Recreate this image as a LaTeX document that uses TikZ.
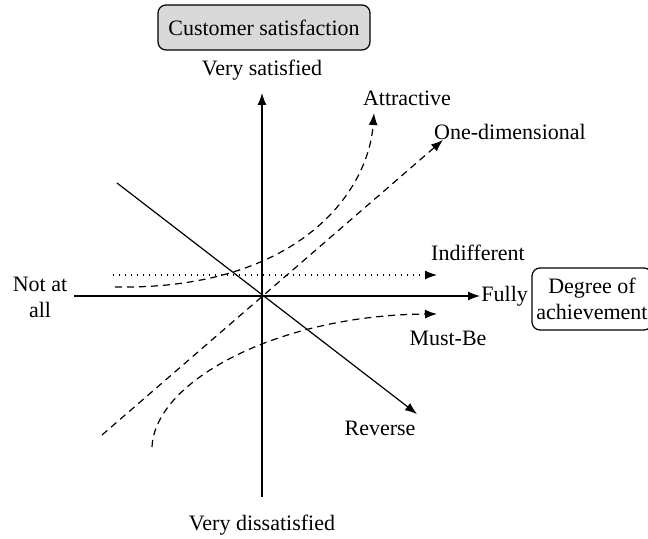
\documentclass[tikz,border=0pt]{standalone}
\usepackage{fontspec}
\setmainfont{Liberation Serif}
\usetikzlibrary{arrows.meta,positioning}
\definecolor{boxgray}{HTML}{D9D9D9}

\tikzset{
  tip/.style={-{Latex[length=6pt,width=4.5pt]}},
  axis/.style={line width=0.6pt, tip},
  curve/.style={line width=0.6pt, dash pattern=on 3.5pt off 2.5pt, tip},
  flat/.style={line width=0.6pt, dash pattern=on 0.6pt off 2.4pt, tip},
  titlebox/.style={draw, line width=0.6pt, rounded corners=4pt, align=center}
}

\begin{document}
\begin{tikzpicture}[x=0.5pt,y=-0.5pt,font=\fontsize{11}{13}\selectfont]
\useasboundingbox (0,0) rectangle (648,539);

% axes
\coordinate (O) at (262,296);
\coordinate (top) at (262,93);
\coordinate (bot) at (262,497);
\coordinate (left) at (74,296);
\coordinate (right) at (480,296);
\draw[axis] (bot) -- (top);
\draw[axis] (left) -- (right);

\node[titlebox, fill=boxgray, minimum width=106pt, minimum height=22.5pt] (sat) at (264,27.5) {Customer satisfaction};
\node (vsat) at (262,70) {Very satisfied};
\node (vdis) at (262,525) {Very dissatisfied};
\node[anchor=west, inner xsep=0.5pt] (fully) at (right) {Fully};
\node[align=center] (none) at (40,297) {Not at\\all};
\node[titlebox, minimum width=60pt, minimum height=31pt, inner xsep=1pt] (deg) at (592,299) {Degree of\\achievement};

% requirement curves
\coordinate (a0) at (115,287);
\coordinate (a1) at (374,113);
\draw[curve] (a0) .. controls (295,290) and (368,195) .. (a1);
\node (att) at (407,98) {Attractive};

\coordinate (o0) at (102,435);
\coordinate (o1) at (443,140);
\draw[curve] (o0) -- (o1);
\node (one) at (510,132) {One-dimensional};

\coordinate (i0) at (113,275);
\coordinate (i1) at (437,275);
\draw[flat] (i0) -- (i1);
\node (ind) at (478,253) {Indifferent};

\coordinate (m0) at (152,447);
\coordinate (m1) at (437,314);
\draw[curve] (m0) .. controls (155,380) and (280,315) .. (m1);
\node (must) at (448,338) {Must-Be};

\coordinate (r0) at (117,183);
\coordinate (r1) at (417,414);
\draw[axis] (r0) -- (r1);
\node (rev) at (380,428) {Reverse};
\end{tikzpicture}
\end{document}
